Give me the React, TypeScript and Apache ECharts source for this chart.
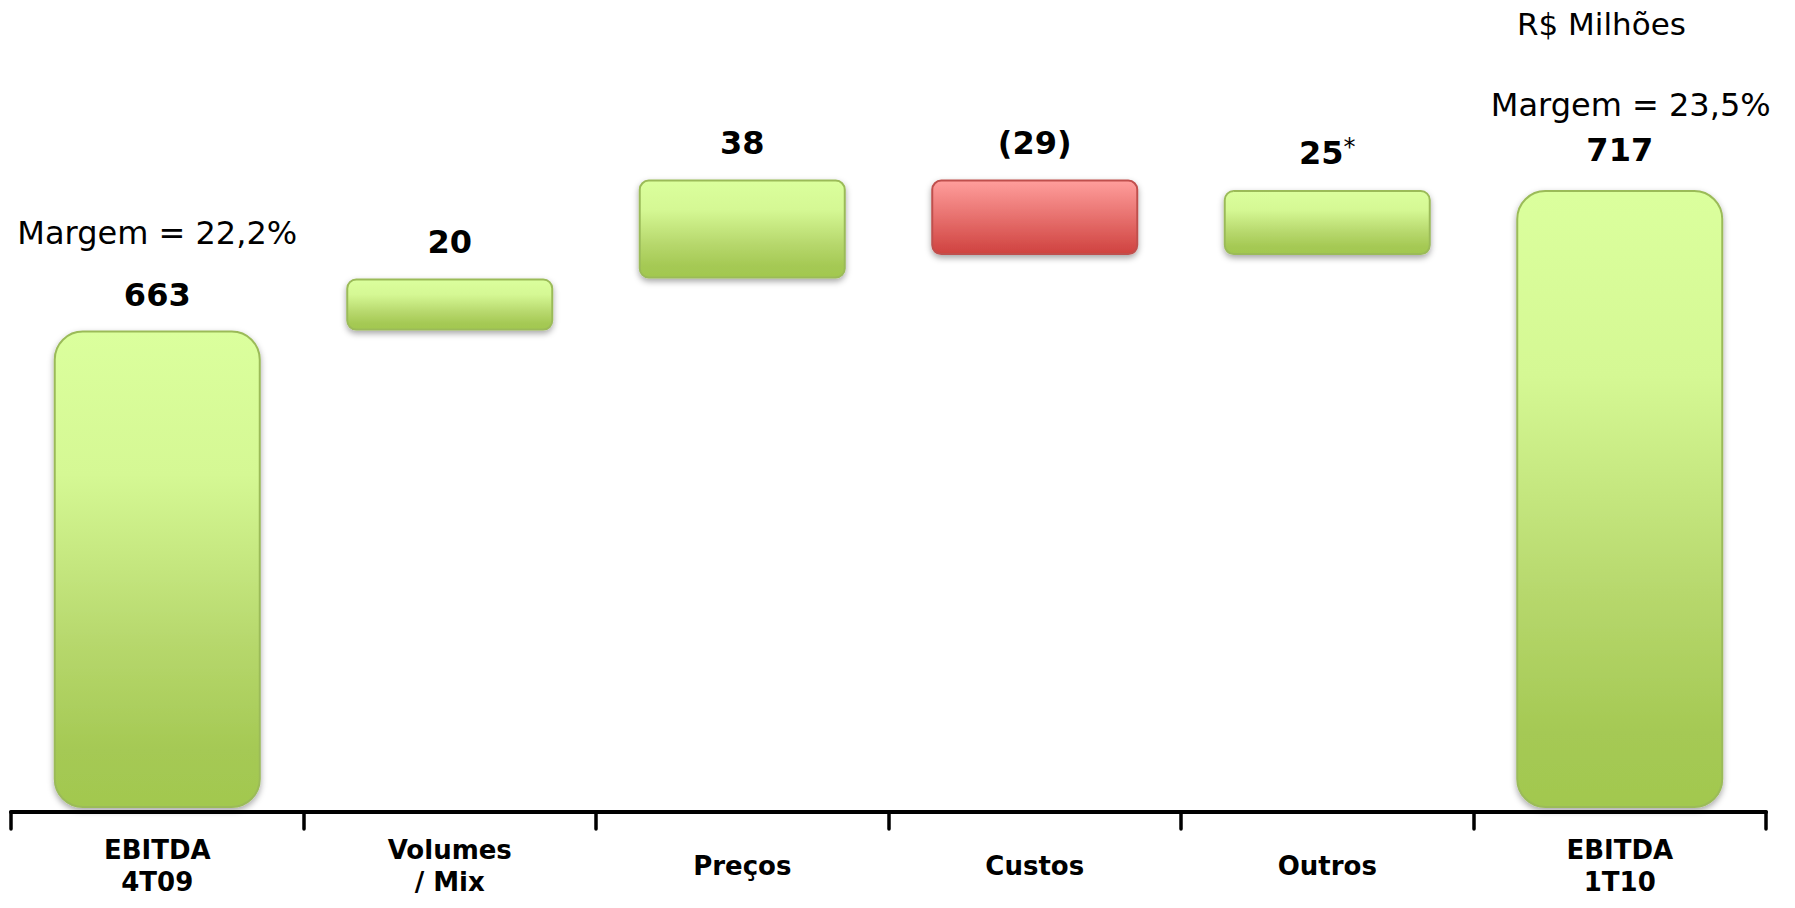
import React, { useEffect, useRef } from "react";
import * as echarts from "echarts";

// ---- data ----
const categories = ["EBITDA\n4T09", "Volumes\n/ Mix", "Preços", "Custos", "Outros", "EBITDA\n1T10"];
const values = [663, 20, 38, -29, 25, 717];
const isTotal = [true, false, false, false, false, true];
const marginTexts = ["Margem = 22,2%", "", "", "", "", "Margem = 23,5%"];
const footnotes = ["", "", "", "", "*", ""];
const unitLabel = "R$ Milhões";
const yMin = 480;
const yMax = 780;

const FONT = "DejaVu Sans, Verdana, sans-serif";

function buildWaterfall() {
  let running = 0;
  const base: number[] = [];
  const height: number[] = [];
  values.forEach((v, i) => {
    if (isTotal[i]) {
      base.push(0);
      height.push(v);
      running = v;
    } else if (v >= 0) {
      base.push(running);
      height.push(v);
      running += v;
    } else {
      running += v;
      base.push(running);
      height.push(-v);
    }
  });
  return { base, height };
}

function fmt(v: number) {
  return v < 0 ? `(${-v})` : `${v}`;
}

export default function App() {
  const ref = useRef<HTMLDivElement>(null);

  useEffect(() => {
    if (!ref.current) return;
    const chart = echarts.init(ref.current, undefined, { renderer: "svg" });
    const { base, height } = buildWaterfall();

    const green = () =>
      new echarts.graphic.LinearGradient(0, 0, 0, 1, [
        { offset: 0, color: "#DBFF9D" },
        { offset: 0.3, color: "#D5F894" },
        { offset: 0.65, color: "#B7D86D" },
        { offset: 0.88, color: "#A5C954" },
        { offset: 1, color: "#A2C84F" },
      ]);
    const red = () =>
      new echarts.graphic.LinearGradient(0, 0, 0, 1, [
        { offset: 0, color: "#FF9E9C" },
        { offset: 1, color: "#CF423F" },
      ]);

    const richBase = (mLineHeight: number, mPadLeft: number) => ({
      v: { fontFamily: FONT, fontSize: 32, fontWeight: "bold", color: "#000", lineHeight: 36 },
      m: {
        fontFamily: FONT,
        fontSize: 32,
        fontWeight: "normal",
        color: "#000",
        lineHeight: mLineHeight,
        padding: [0, 0, 0, mPadLeft],
      },
      s: { fontFamily: FONT, fontSize: 24, fontWeight: "normal", color: "#000", lineHeight: 24, verticalAlign: "top" },
    });

    const visibleData = height.map((h, i) => {
      const neg = values[i] < 0;
      let text = `{v|${fmt(values[i])}}`;
      if (marginTexts[i]) text = `{m|${marginTexts[i]}}\n` + text;
      if (footnotes[i]) text = text + `{s|${footnotes[i]}}`;
      return {
        value: h,
        itemStyle: {
          color: neg ? red() : green(),
          borderColor: neg ? "#C0504D" : "#9BBB59",
          borderWidth: 2,
          borderRadius: isTotal[i] ? 28 : 9,
          shadowColor: "rgba(0,0,0,0.35)",
          shadowBlur: 6,
          shadowOffsetY: 3,
        },
        label: {
          show: true,
          position: "top",
          distance: i === 0 ? 18 : i === 5 ? 22 : 19,
          formatter: text,
          rich: richBase(i === 0 ? 87 : 54, i === 5 ? 22 : 0),
        },
      };
    });

    chart.setOption({
      animation: false,
      backgroundColor: "#ffffff",
      title: {
        text: unitLabel,
        left: 1517,
        top: 6,
        padding: 0,
        textStyle: { fontFamily: FONT, fontSize: 31, fontWeight: "normal", color: "#000", lineHeight: 36 },
      },
      grid: { left: 11, right: 29, top: 26, bottom: 101, containLabel: false },
      xAxis: {
        type: "category",
        data: categories,
        offset: 5,
        axisLine: { show: true, lineStyle: { color: "#000", width: 4 } },
        axisTick: { show: true, length: 17, lineStyle: { color: "#000", width: 3.5, cap: "round" } },
        axisLabel: {
          interval: 0,
          margin: 54,
          verticalAlign: "middle",
          fontFamily: FONT,
          fontWeight: "bold",
          fontSize: 26,
          lineHeight: 32,
          color: "#000",
        },
        splitLine: { show: false },
      },
      yAxis: {
        type: "value",
        min: yMin,
        max: yMax,
        show: false,
        splitLine: { show: false },
      },
      series: [
        {
          type: "bar",
          stack: "wf",
          barWidth: 207,
          silent: true,
          itemStyle: { color: "rgba(0,0,0,0)" },
          data: base,
        },
        {
          type: "bar",
          stack: "wf",
          barWidth: 207,
          data: visibleData,
        },
      ],
    });

    return () => chart.dispose();
  }, []);

  return (
    <div
      ref={ref}
      style={{ position: "fixed", left: 0, top: 0, width: 1795, height: 908, background: "#fff" }}
    />
  );
}
